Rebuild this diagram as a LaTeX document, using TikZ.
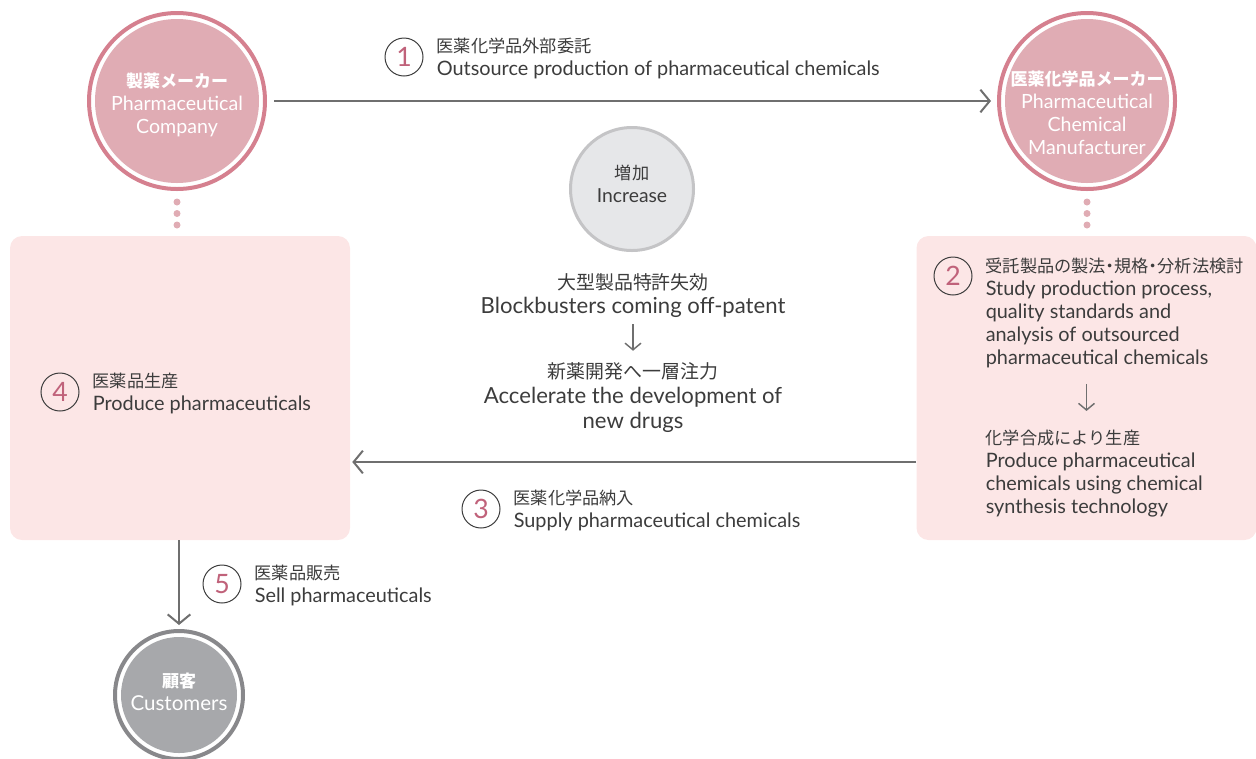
\documentclass[tikz,border=0pt]{standalone}
\usepackage{fontspec}
\setmainfont{Lato}
\newfontfamily\jp{Noto Sans CJK JP}
\usepackage{xcolor}
\usetikzlibrary{arrows.meta,positioning}
\definecolor{ringpink}{HTML}{D5808F}
\definecolor{fillpink}{HTML}{E0ACB4}
\definecolor{boxpink}{HTML}{FCE6E6}
\definecolor{arrowgray}{HTML}{6F6F6F}
\definecolor{txtgray}{HTML}{3C3C3C}
\definecolor{numred}{HTML}{C0627A}
\definecolor{incfill}{HTML}{E6E7E9}
\definecolor{incline}{HTML}{C4C4C6}
\definecolor{custring}{HTML}{88888B}
\definecolor{custfill}{HTML}{A7A8AB}
\newcommand{\jt}[1]{{\jp\fontsize{12.9pt}{17.25pt}\selectfont #1}}
\newcommand{\jm}[1]{{\jp\fontsize{14.2pt}{18pt}\selectfont #1}}
\newcommand{\jb}[1]{{\jp\bfseries\fontsize{12.75pt}{17.25pt}\selectfont #1}}
\newcommand{\nakaguro}{\kern-0.25em・\kern-0.25em}

\begin{document}
\begin{tikzpicture}[x=0.75pt, y=-0.75pt,
  >={Straight Barb[length=7pt, width=17pt]},
  ring/.style n args={3}{circle, inner sep=0pt, minimum size=#1, draw=#2, line width=3pt, fill=white,
    path picture={\fill[#3] (path picture bounding box.center) circle (#1/2-4.5pt);}},
  ringtxt/.style={align=center, inner sep=0pt, text=white, font=\fontsize{14.7pt}{17.25pt}\selectfont},
  numc/.style={circle, draw=txtgray, line width=0.75pt, minimum size=28.5pt, inner sep=0pt,
    text=numred, font=\fontsize{20pt}{20pt}\selectfont},
  lbl/.style={align=left, inner sep=0pt, anchor=north west, text=txtgray,
    font=\fontsize{14.9pt}{17.25pt}\selectfont},
  midtxt/.style={align=center, inner sep=0pt, text=txtgray, font=\fontsize{16.6pt}{18pt}\selectfont},
  bigarrow/.style={->, draw=arrowgray, line width=1.5pt},
  smallarrow/.style={-{Straight Barb[length=5pt, width=12pt]}, draw=arrowgray, line width=1.1pt},
  box/.style={fill=boxpink, rounded corners=9pt, inner sep=0pt, minimum width=255pt, minimum height=228pt},
  dot/.style={circle, fill=fillpink, inner sep=0pt, minimum size=5.25pt}]
  \useasboundingbox (0,0) rectangle (1256,758);

  \node[box] (lbox) at (180,388) {};
  \node[box] (rbox) at (1086.5,388) {};

  \node[ring={132pt}{ringpink}{fillpink}] (pc) at (177,101) {};
  \node[ringtxt] (pctxt) at (177,104.5) {\jb{製薬メーカー}\\Pharmaceutical\\Company};
  \node[ring={132pt}{ringpink}{fillpink}] (cm) at (1087,101) {};
  \node[ringtxt] (cmtxt) at (1087,112.5) {\jb{医薬化学品メーカー}\\Pharmaceutical\\Chemical\\Manufacturer};
  \node[ring={96pt}{custring}{custfill}] (cu) at (179,695) {};
  \node[ringtxt, font=\fontsize{15.4pt}{17.25pt}\selectfont] (cutxt) at (179,691.5) {\jb{顧客}\\Customers};
  \node[circle, draw=incline, line width=2.25pt, fill=incfill, minimum size=92.25pt, inner sep=0pt] (inc) at (632,189) {};
  \node[align=center, inner sep=0pt, text=txtgray, font=\fontsize{14.5pt}{17.25pt}\selectfont] (inctxt) at (632,183.5)
    {\jt{増加}\\Increase};

  \foreach \y [count=\i] in {202,213.5,225} {
    \node[dot] (ldot\i) at (177,\y) {};
    \node[dot] (rdot\i) at (1087,\y) {};
  }

  \node[numc] (n1) at (404,57) {1};
  \node[lbl] (t1) at ([xshift=9.75pt]n1.north -| n1.east)
    {\jt{医薬化学品外部委託}\\Outsource production of pharmaceutical chemicals};
  \node[numc] (n2) at (953,276) {2};
  \node[lbl] (t2) at ([xshift=9.75pt, yshift=-0.75pt]n2.north -| n2.east)
    {\jt{受託製品の製法\nakaguro 規格\nakaguro 分析法検討}\\Study production process,\\quality standards and\\analysis of outsourced\\pharmaceutical chemicals};
  \node[lbl, below=46.5pt of t2.south west, anchor=north west] (t2b)
    {\jt{化学合成により生産}\\Produce pharmaceutical\\chemicals using chemical\\synthesis technology};
  \node[numc] (n3) at (481,509) {3};
  \node[lbl] (t3) at ([xshift=9.75pt]n3.north -| n3.east)
    {\jt{医薬化学品納入}\\Supply pharmaceutical chemicals};
  \node[numc] (n4) at (60,392) {4};
  \node[lbl] (t4) at ([xshift=9.75pt]n4.north -| n4.east)
    {\jt{医薬品生産}\\Produce pharmaceuticals};
  \node[numc] (n5) at (222,584) {5};
  \node[lbl] (t5) at ([xshift=9.75pt]n5.north -| n5.east)
    {\jt{医薬品販売}\\Sell pharmaceuticals};

  \node[midtxt] (mid1) at (633,295.5) {\jm{大型製品特許失効}\\Blockbusters coming off-patent};
  \node[midtxt, font=\fontsize{16.6pt}{18.75pt}\selectfont] (mid2) at (633,398)
    {\jm{新薬開発へ一層注力}\\Accelerate the development of\\new drugs};

  \draw[bigarrow, shorten <=5.25pt, shorten >=4.5pt] (pc) -- (cm);
  \draw[bigarrow, shorten >=1.5pt] ([yshift=-55.5pt]rbox.west) -- ([yshift=-55.5pt]lbox.east);
  \draw[bigarrow, shorten >=3pt] (lbox.south -| cu) -- (cu);
  \draw[smallarrow, shorten <=5pt, shorten >=9pt] (mid1) -- (mid2);
  \draw[smallarrow, shorten <=12pt, shorten >=14.25pt] (t2.south -| rbox) -- (t2b.north -| rbox);
\end{tikzpicture}
\end{document}
